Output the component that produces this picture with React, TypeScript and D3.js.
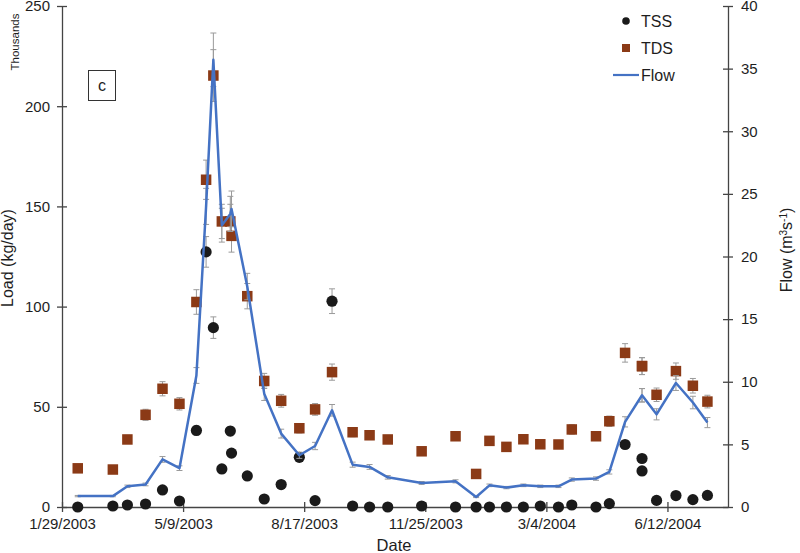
import { useEffect, useRef } from "react";
import * as d3 from "d3";

// sampling dates (TSS / TDS / flow share the same dates)
const sampleDates = [
  "2003-02-11", "2003-03-12", "2003-03-24", "2003-04-08", "2003-04-22",
  "2003-05-06", "2003-05-20", "2003-05-28", "2003-06-03", "2003-06-10",
  "2003-06-17", "2003-06-18", "2003-07-01", "2003-07-15", "2003-07-29",
  "2003-08-13", "2003-08-26", "2003-09-09", "2003-09-26", "2003-10-10",
  "2003-10-25", "2003-11-22", "2003-12-20", "2004-01-06", "2004-01-17",
  "2004-01-31", "2004-02-14", "2004-02-28", "2004-03-14", "2004-03-25",
  "2004-04-14", "2004-04-25", "2004-05-08", "2004-05-22", "2004-05-22",
  "2004-06-03", "2004-06-19", "2004-07-03", "2004-07-15",
];

// loads in thousands of kg/day
const tssLoad = [
  0, 0.5, 1, 1.5, 8.5, 3, 38.2, 127.3, 89.5, 19, 37.9, 26.9, 15.5, 4, 11.2,
  24.8, 3.2, 102.7, 0.5, 0, 0, 0.5, 0, 0, 0, 0, 0, 0.5, 0, 1, 0, 1.7, 31.2,
  24.2, 18, 3.3, 5.7, 3.7, 5.8,
];
const tdsLoad = [
  19.3, 18.7, 33.7, 46, 59, 51.5, 102.3, 163.3, 215.3, 142.5, 142.5, 135.3,
  105.2, 62.9, 53, 39.3, 48.7, 67.3, 37.3, 35.8, 33.7, 27.8, 35.3, 16.5, 33,
  30, 33.8, 31.3, 31.2, 38.7, 35.3, 42.8, 76.9, 70.3, 70.3, 56, 67.8, 60.5,
  52.6,
];
// flow in m3/s
const flowRate = [
  0.87, 0.87, 1.65, 1.8, 3.8, 3.1, 10.5, 24, 35.7, 22.5, 23.4, 23.8, 17.6,
  9.05, 5.86, 4.13, 4.87, 7.72, 3.38, 3.2, 2.37, 1.92, 2.05, 0.8, 1.73, 1.55,
  1.73, 1.65, 1.65, 2.19, 2.27, 2.8, 6.8, 8.92, 8.92, 7.4, 9.9, 8.34, 6.74,
];
const errFraction = 0.06;

const loadTicks = [0, 50, 100, 150, 200, 250];
const flowTicks = [0, 5, 10, 15, 20, 25, 30, 35, 40];
const dateTickStep = 100; // days

const FONT = "Liberation Sans, Arial, sans-serif";

export default function App() {
  const ref = useRef<SVGSVGElement>(null);

  useEffect(() => {
    const W = 800;
    const H = 553;
    const left = 62;
    const right = 728;
    const top = 6;
    const bottom = 507;

    const svg = d3.select(ref.current);
    svg.selectAll("*").remove();

    const parse = d3.utcParse("%Y-%m-%d");
    const dates = sampleDates.map((d) => parse(d) as Date);
    const start = parse("2003-01-29") as Date;
    const end = d3.utcDay.offset(start, 550);

    const x = d3.scaleUtc().domain([start, end]).range([left, right]);
    const yL = d3.scaleLinear().domain([0, 250]).range([bottom, top]);
    const yR = d3.scaleLinear().domain([0, 40]).range([bottom, top]);

    const dateTicks = d3.range(0, 6).map((i) => d3.utcDay.offset(start, i * dateTickStep));
    const fmt = d3.utcFormat("%-m/%-d/%Y");

    const axisColor = "#444";
    const textColor = "#1e1e1e";

    const styleAxis = (g: any, horizontal: boolean) => {
      g.select(".domain").attr("stroke", axisColor).attr("stroke-width", 1.3);
      g.selectAll(".tick line")
        .attr("stroke", axisColor)
        .attr("stroke-width", 1.3)
        .each(function (this: SVGLineElement) {
          if (horizontal) d3.select(this).attr("y1", -5).attr("y2", 5);
          else d3.select(this).attr("x1", -5).attr("x2", 5);
        });
      g.selectAll(".tick text")
        .attr("fill", textColor)
        .style("font-family", FONT)
        .style("font-size", "15px");
    };

    // x axis
    svg
      .append("g")
      .attr("transform", `translate(0,${bottom})`)
      .call(
        d3.axisBottom(x).tickValues(dateTicks).tickFormat((d: any) => fmt(d)).tickSize(5).tickSizeOuter(0).tickPadding(6)
      )
      .call((g) => styleAxis(g, true));

    // left axis
    svg
      .append("g")
      .attr("transform", `translate(${left},0)`)
      .call(d3.axisLeft(yL).tickValues(loadTicks).tickSize(5).tickSizeOuter(0).tickPadding(7))
      .call((g) => styleAxis(g, false));

    // right axis
    svg
      .append("g")
      .attr("transform", `translate(${right},0)`)
      .call(d3.axisRight(yR).tickValues(flowTicks).tickSize(5).tickSizeOuter(0).tickPadding(8))
      .call((g) => styleAxis(g, false));

    const errColor = "#9a9a9a";
    const drawErr = (vals: number[], y: d3.ScaleLinear<number, number>) => {
      const g = svg.append("g").attr("stroke", errColor).attr("stroke-width", 1);
      vals.forEach((v, i) => {
        const cx = x(dates[i]);
        const y1 = y(v * (1 - errFraction));
        const y2 = y(v * (1 + errFraction));
        g.append("line").attr("x1", cx).attr("x2", cx).attr("y1", y1).attr("y2", y2);
        g.append("line").attr("x1", cx - 3).attr("x2", cx + 3).attr("y1", y1).attr("y2", y1);
        g.append("line").attr("x1", cx - 3).attr("x2", cx + 3).attr("y1", y2).attr("y2", y2);
      });
    };

    // TSS
    drawErr(tssLoad, yL);
    svg
      .append("g")
      .selectAll("circle")
      .data(tssLoad)
      .join("circle")
      .attr("cx", (_, i) => x(dates[i]))
      .attr("cy", (d) => yL(d))
      .attr("r", 5.6)
      .attr("fill", "#1a1a1a");

    // TDS
    const sq = 10.5;
    drawErr(tdsLoad, yL);
    svg
      .append("g")
      .selectAll("rect")
      .data(tdsLoad)
      .join("rect")
      .attr("x", (_, i) => x(dates[i]) - sq / 2)
      .attr("y", (d) => yL(d) - sq / 2)
      .attr("width", sq)
      .attr("height", sq)
      .attr("fill", "#8b3a16");

    // Flow
    drawErr(flowRate, yR);
    const line = d3
      .line<number>()
      .x((_, i) => x(dates[i]))
      .y((d) => yR(d));
    svg
      .append("path")
      .datum(flowRate)
      .attr("fill", "none")
      .attr("stroke", "#4472c4")
      .attr("stroke-width", 2.5)
      .attr("stroke-linejoin", "round")
      .attr("d", line);

    // axis titles
    const txt = (s: string, size: number) =>
      svg
        .append("text")
        .text(s)
        .attr("fill", textColor)
        .style("font-family", FONT)
        .style("font-size", `${size}px`);

    txt("Load (kg/day)", 16).attr("text-anchor", "middle").attr("transform", `translate(13,258) rotate(-90)`);
    txt("Thousands", 11.5).attr("text-anchor", "middle").attr("transform", `translate(19,42) rotate(-90)`);
    txt("Date", 16.5).attr("text-anchor", "middle").attr("x", 394).attr("y", 551);

    const fl = svg
      .append("text")
      .attr("fill", textColor)
      .attr("text-anchor", "middle")
      .style("font-family", FONT)
      .style("font-size", "16px")
      .attr("transform", `translate(792,250) rotate(-90)`);
    fl.append("tspan").text("Flow (m");
    fl.append("tspan").text("3").attr("font-size", "10px").attr("baseline-shift", "super");
    fl.append("tspan").text("s");
    fl.append("tspan").text("-1").attr("font-size", "10px").attr("baseline-shift", "super");
    fl.append("tspan").text(")");

    // panel label
    svg
      .append("rect")
      .attr("x", 88.5)
      .attr("y", 70.5)
      .attr("width", 27)
      .attr("height", 30)
      .attr("fill", "white")
      .attr("stroke", "#333")
      .attr("stroke-width", 1);
    txt("c", 16).attr("text-anchor", "middle").attr("x", 102).attr("y", 91);

    // legend
    const lg = svg.append("g");
    lg.append("circle").attr("cx", 626).attr("cy", 21).attr("r", 3.8).attr("fill", "#1a1a1a");
    lg.append("rect").attr("x", 622).attr("y", 44).attr("width", 8).attr("height", 8).attr("fill", "#8b3a16");
    lg.append("line").attr("x1", 613).attr("x2", 639).attr("y1", 75).attr("y2", 75).attr("stroke", "#4472c4").attr("stroke-width", 2.2);
    [["TSS", 27], ["TDS", 53.5], ["Flow", 80.5]].forEach(([s, y]) => {
      txt(s as string, 16).attr("x", 641).attr("y", y as number);
    });

    svg.attr("width", W).attr("height", H);
  }, []);

  return (
    <svg
      ref={ref}
      width={800}
      height={553}
      style={{ position: "absolute", left: 0, top: 0, background: "white" }}
    />
  );
}
